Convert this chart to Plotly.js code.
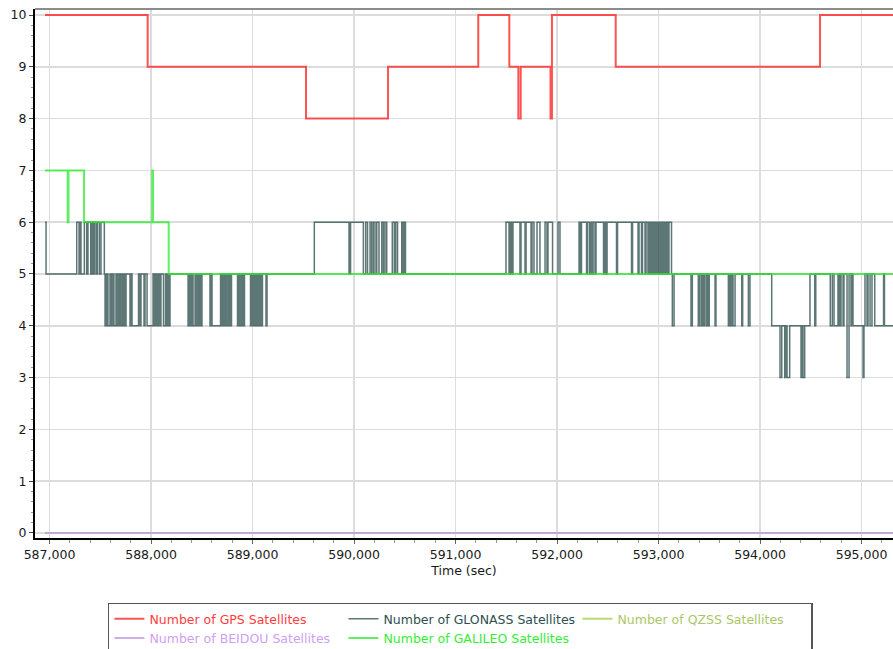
<!DOCTYPE html>
<html>
<head>
<meta charset="utf-8">
<script src="https://cdn.plot.ly/plotly-3.0.1.min.js"></script>
<style>
html,body{margin:0;padding:0;background:#fff;}
#chart{width:893px;height:649px;}
</style>
</head>
<body>
<div id="chart"></div>
<script>
// ---- Data (change points, values hold until the next time) ----
var seriesNames = [
  "Number of GPS Satellites",
  "Number of GLONASS Satellites",
  "Number of QZSS Satellites",
  "Number of BEIDOU Satellites",
  "Number of GALILEO Satellites"
];

var gpsTime = [586956, 587967, 589527, 590335, 591224, 591530, 591619, 591642, 591936, 591950, 592578, 594591, 595320];
var gpsCount = [10, 9, 8, 9, 10, 9, 8, 9, 8, 10, 9, 10, 10];

var galileoTime = [586956, 587179, 587187, 587340, 588013, 588020, 588174, 595320];
var galileoCount = [7, 6, 7, 6, 7, 6, 5, 5];

var qzssTime = [586956, 595320];
var qzssCount = [0, 0];

var beidouTime = [586956, 595320];
var beidouCount = [0, 0];

var glonassTime = [
  586956, 586966,
  587268, 587291, 587300, 587310, 587343, 587366, 587379, 587406, 587416, 587431, 587441, 587458, 587471, 587491, 587507, 587540,
  587547, 587562, 587576, 587596, 587611, 587626, 587635, 587655, 587665, 587680, 587690, 587704, 587719, 587734, 587744, 587754,
  587793, 587803, 587813, 587877, 587892, 587901, 587931, 587941, 587961, 588020, 588034, 588049, 588059, 588069, 588084, 588098,
  588123, 588143, 588158, 588167, 588177, 588187,
  588365, 588374, 588389, 588404, 588414, 588434, 588443, 588458, 588473, 588483, 588493, 588502,
  588581, 588596, 588601, 588685, 588700, 588714, 588729, 588739, 588749, 588764, 588778, 588793,
  588852, 588862, 588877, 588892, 588906, 588921, 588980, 588990, 589005, 589020, 589034, 589044, 589059, 589074, 589089, 589098,
  589133, 589143,
  589609, 589951, 589966, 590092, 590115, 590133, 590158, 590174, 590190, 590207, 590224, 590246, 590273, 590289, 590305, 590322,
  590377, 590397, 590411, 590429, 590470, 590483, 590493, 590507,
  591497, 591527, 591542, 591557, 591566, 591635, 591645, 591685, 591695, 591744, 591754, 591773, 591803, 591832, 591882, 591901,
  591911, 591956, 592010, 592029,
  592217, 592231, 592241, 592291, 592300, 592320, 592330, 592345, 592355, 592374, 592384, 592458, 592468, 592483, 592493,
  592586, 592596, 592734, 592744, 592798, 592808, 592832, 592842, 592867, 592877, 592896, 592906, 592916, 592926, 592936, 592946,
  592956, 592965, 592975, 592985, 592995, 593005, 593015, 593024, 593034, 593044, 593054, 593064, 593074, 593084, 593093, 593103,
  593128,
  593136, 593153, 593320, 593333, 593392, 593402, 593419, 593428, 593441, 593451, 593468, 593478, 593491, 593500, 593557, 593566,
  593688, 593699, 593709, 593724, 593734, 593754, 593820, 593829, 593885, 593901,
  594115, 594197, 594214, 594243, 594256, 594266, 594292, 594404, 594414, 594423, 594440, 594492,
  594539, 594549, 594692, 594712, 594729, 594768, 594783, 594798, 594818, 594827, 594857, 594877, 594896, 594911,
  594916, 595015, 595024, 595034, 595054, 595064, 595084, 595103, 595130, 595217, 595226, 595320
];
var glonassCount = [
  6, 5,
  6, 5, 6, 5, 6, 5, 6, 5, 6, 5, 6, 5, 6, 5, 6, 5,
  4, 5, 4, 5, 4, 5, 4, 5, 4, 5, 4, 5, 4, 5, 4, 5,
  4, 5, 4, 5, 4, 5, 4, 5, 4, 5, 4, 5, 4, 5, 4, 5,
  4, 5, 4, 5, 4, 5,
  4, 5, 4, 5, 4, 5, 4, 5, 4, 5, 4, 5,
  4, 5, 4, 5, 4, 5, 4, 5, 4, 5, 4, 5,
  4, 5, 4, 5, 4, 5, 4, 5, 4, 5, 4, 5, 4, 5, 4, 5,
  4, 5,
  6, 5, 6, 5, 6, 5, 6, 5, 6, 5, 6, 5, 6, 5, 6, 5,
  6, 5, 6, 5, 6, 5, 6, 5,
  6, 5, 6, 5, 6, 5, 6, 5, 6, 5, 6, 5, 6, 5, 6, 5,
  6, 5, 6, 5,
  6, 5, 6, 5, 6, 5, 6, 5, 6, 5, 6, 5, 6, 5, 6,
  5, 6, 5, 6, 5, 6, 5, 6, 5, 6, 5, 6, 5, 6, 5, 6,
  5, 6, 5, 6, 5, 6, 5, 6, 5, 6, 5, 6, 5, 6, 5, 6,
  5,
  4, 5, 4, 5, 4, 5, 4, 5, 4, 5, 4, 5, 4, 5, 4, 5,
  4, 5, 4, 5, 4, 5, 4, 5, 4, 5,
  4, 3, 4, 3, 4, 3, 4, 3, 4, 3, 4, 5,
  4, 5, 4, 5, 4, 5, 4, 5, 4, 5, 3, 5, 4, 5,
  4, 3, 4, 5, 4, 5, 4, 5, 4, 5, 4, 4
];

var seriesColors = ["#ff3c3c", "#2f4f4f", "#a9c76a", "#cf9ff2", "#33ee33"];
var lineColors = ["rgba(255,40,40,0.8)", "rgba(47,79,79,0.78)", "rgba(154,205,50,0.7)", "rgba(200,160,230,0.85)", "rgba(40,235,40,0.75)"];

var xTick0 = 587000, xDtick = 1000;

function mk(i, t, v, w) {
  return {
    type: "scatter", mode: "lines",
    x: t, y: v,
    name: '<span style="color:' + seriesColors[i] + '">' + seriesNames[i] + '</span>',
    line: {color: lineColors[i], width: w, shape: "hv"},
    hoverinfo: "x+y"
  };
}

var data = [
  mk(0, gpsTime, gpsCount, 2),
  mk(1, glonassTime, glonassCount, 1.5),
  mk(2, qzssTime, qzssCount, 2),
  mk(3, beidouTime, beidouCount, 2),
  mk(4, galileoTime, galileoCount, 2)
];

var FONT = "DejaVu Sans, Verdana, sans-serif";

var layout = {
  width: 893, height: 649,
  margin: {l: 35, r: 0, t: 9, b: 111, autoexpand: false},
  paper_bgcolor: "#ffffff",
  plot_bgcolor: "#ffffff",
  font: {family: FONT, size: 12, color: "#1a1a1a"},
  showlegend: true,
  xaxis: {
    range: [586857, 595310],
    tick0: xTick0, dtick: xDtick,
    tickformat: ",d",
    showgrid: true, gridcolor: "#dcdcdc", gridwidth: 1.5,
    zeroline: false,
    showline: true, linecolor: "#000", linewidth: 2,
    ticks: "outside", ticklen: 4, tickcolor: "#666", tickwidth: 1,
    minor: {dtick: 200, ticks: "outside", ticklen: 3, tickcolor: "#999", showgrid: false},
    tickfont: {family: FONT, size: 12.5, color: "#1a1a1a"},
    title: {text: "Time (sec)", font: {family: FONT, size: 12.5, color: "#1a1a1a"}, standoff: 5},
    automargin: false,
    fixedrange: true
  },
  yaxis: {
    range: [-0.097, 10.116],
    tick0: 0, dtick: 1,
    showgrid: true, gridcolor: "#dcdcdc", gridwidth: 1.5,
    zeroline: false,
    showline: true, linecolor: "#000", linewidth: 2,
    ticks: "outside", ticklen: 4, tickcolor: "#444", tickwidth: 1,
    minor: {dtick: 0.2, ticks: "outside", ticklen: 2, tickcolor: "#999", showgrid: false},
    tickfont: {family: FONT, size: 12.5, color: "#1a1a1a"},
    automargin: false,
    fixedrange: true
  },
  shapes: [
    {type: "line", xref: "paper", yref: "paper", x0: 0, x1: 1, y0: 1, y1: 1,
     line: {color: "#8c8c8c", width: 2}}
  ],
  legend: {
    orientation: "h",
    x: 0.085, xanchor: "left",
    y: -0.122, yanchor: "top",
    bgcolor: "#ffffff",
    bordercolor: "#555555", borderwidth: 1.5,
    font: {family: FONT, size: 12.5, color: "#333"},
    entrywidth: 189, entrywidthmode: "pixels",
    traceorder: "normal",
    itemwidth: 30
  }
};

Plotly.newPlot("chart", data, layout, {displayModeBar: false, staticPlot: true});
</script>
</body>
</html>
